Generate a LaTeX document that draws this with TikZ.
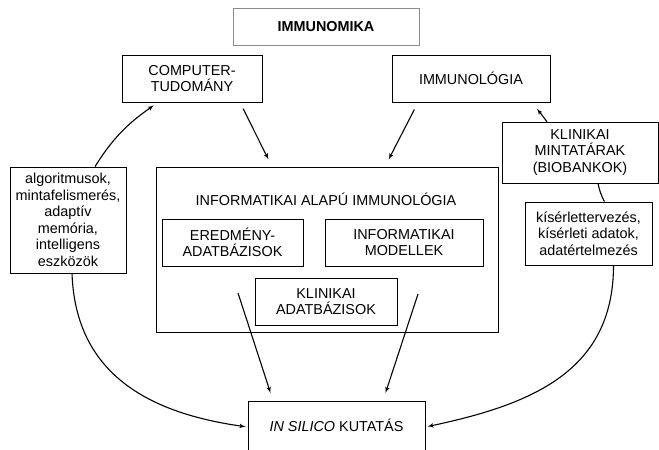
\documentclass[tikz,border=0pt]{standalone}
\usepackage{fontspec}
\setmainfont{Liberation Sans}
\usepackage{tikz}
\usetikzlibrary{arrows, positioning, shapes}

\tikzset{
  box/.style    = {draw, line width=0.8pt, align=center, inner sep=2pt,
                   font=\fontsize{14.4}{16.5}\selectfont},
  flow/.style   = {draw, line width=1.1pt, -latex'},
}

\begin{document}
\begin{tikzpicture}[x=1pt, y=-1pt]

\useasboundingbox (0,0) rectangle (659,450);

\node [box, draw=black!45, minimum width=186pt, minimum height=37pt, font=\fontsize{14.4}{16.5}\selectfont\bfseries] (immunomika) at (326,26.5) {IMMUNOMIKA};
\node [box, minimum width=140pt, minimum height=47pt] (computer)   at (192,78.5)  {COMPUTER-\\TUDOMÁNY};
\node [box, minimum width=158pt, minimum height=47pt] (immunologia) at (471,78.5) {IMMUNOLÓGIA};

\node [box, minimum width=342pt, minimum height=165pt] (infoalap) at (327,249.5) {};
\node [font=\fontsize{14.4}{16.5}\selectfont] (infotitle) at (326,199) {INFORMATIKAI ALAPÚ IMMUNOLÓGIA};
\node [box, minimum width=141pt, minimum height=47pt] (eredmeny) at (232.5,242.5) {EREDMÉNY-\\ADATBÁZISOK};
\node [box, minimum width=158pt, minimum height=47pt] (modellek) at (404,242.5)   {INFORMATIKAI\\MODELLEK};
\node [box, minimum width=142pt, minimum height=47pt] (klinadat) at (326,301.5)   {KLINIKAI\\ADATBÁZISOK};

\node [box, minimum width=177pt, minimum height=49pt] (insilico) at (336.5,425.5) {\textit{IN SILICO} KUTATÁS};

\node [box, minimum width=116pt, minimum height=106pt] (algo) at (68,220) {algoritmusok,\\mintafelismerés,\\adaptív\\memória,\\intelligens\\eszközök};
\node [box, minimum width=156pt, minimum height=61pt] (mintatar) at (580,152.5) {KLINIKAI\\MINTATÁRAK\\(BIOBANKOK)};
\node [box, minimum width=127pt, minimum height=63pt] (kiserlet) at (588.5,233.5) {kísérlettervezés,\\kísérleti adatok,\\adatértelmezés};

% arrows start inside the big box
\coordinate (eredout) at (238,293);
\coordinate (modout)  at (418,294);

\path [flow, shorten <=7pt, shorten >=8pt] ([xshift=48pt]computer.south)    -- ([xshift=-55pt]infoalap.north);
\path [flow, shorten <=8pt, shorten >=8pt] ([xshift=-53pt]immunologia.south) -- ([xshift=58pt]infoalap.north);
\path [flow, shorten >=8pt] (eredout) -- ([xshift=-63.5pt]insilico.north);
\path [flow, shorten >=8pt] (modout)  -- ([xshift=46.5pt]insilico.north);

\path [flow, shorten >=5pt] ([xshift=27pt]algo.north) to[out=58, in=215] ([xshift=-34pt]computer.south);
\path [flow, shorten >=2pt] ([xshift=4pt]algo.south) to[out=-88, in=172, looseness=1.1] ([yshift=-1.5pt]insilico.west);
\path [flow, shorten >=2pt] ([xshift=25pt]kiserlet.south) to[out=-90, in=12, looseness=1.1] ([yshift=-1.5pt]insilico.east);
\path [flow, shorten >=8pt] ([xshift=-33pt]mintatar.north) -- ([xshift=61pt]immunologia.south);
\path [draw, line width=1.1pt] ([xshift=18pt]mintatar.south) to[bend right=8] ([xshift=16pt]kiserlet.north);

\end{tikzpicture}
\end{document}
